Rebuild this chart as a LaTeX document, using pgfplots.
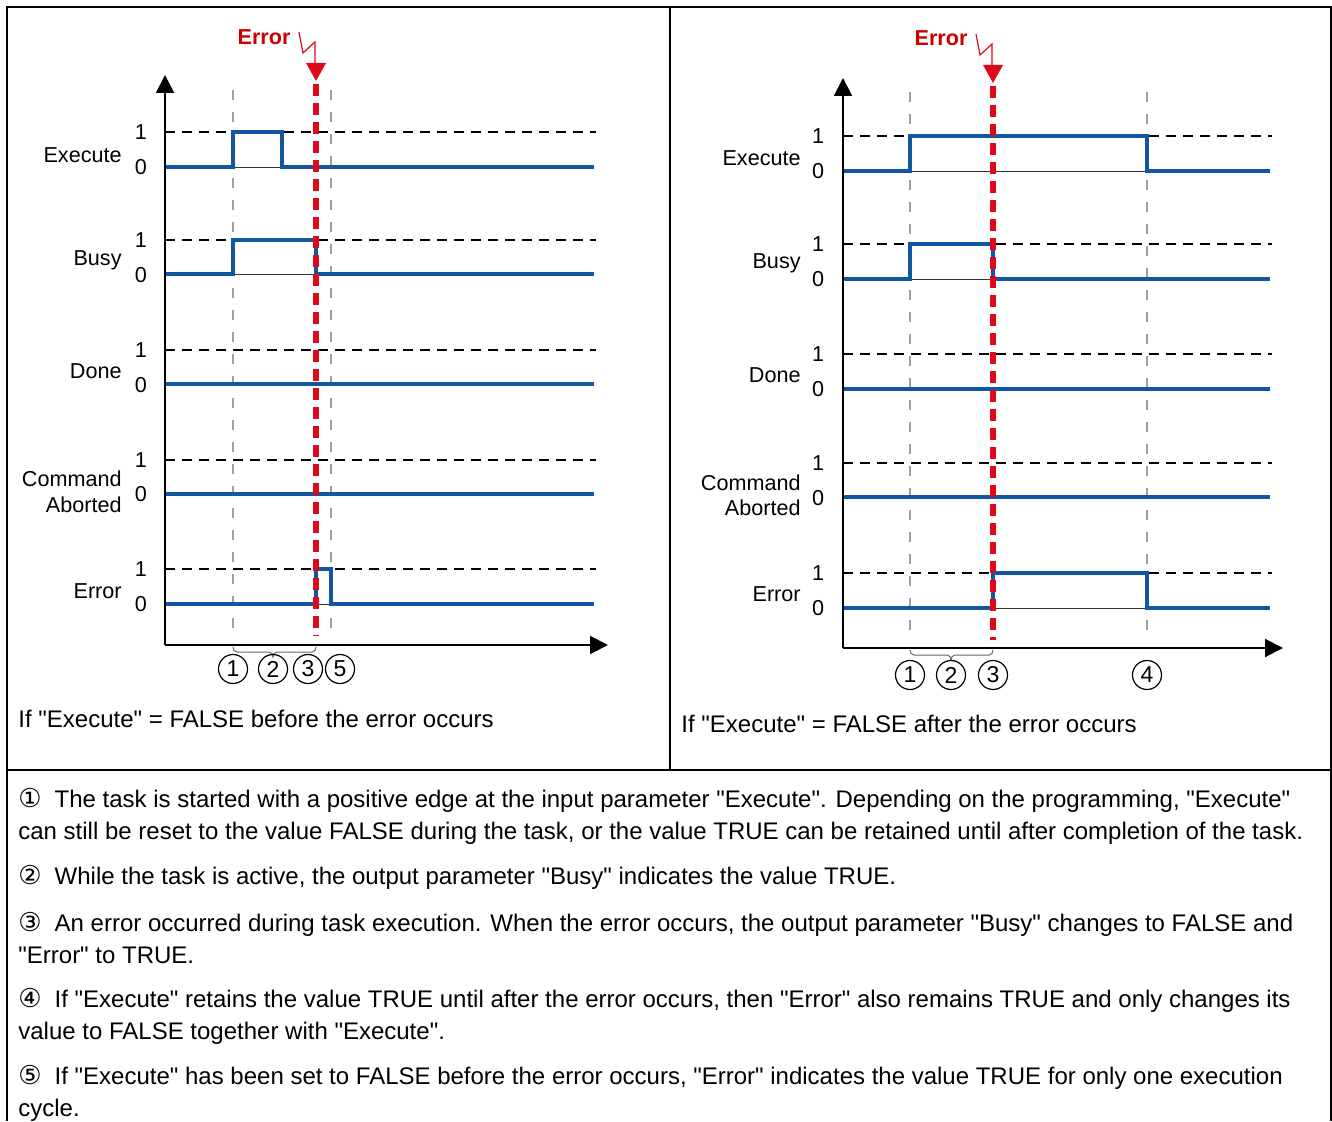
\documentclass[border=0pt]{standalone}
\usepackage{pgfplots}
\pgfplotsset{compat=1.18}
\usepackage{fontspec}
\setmainfont{Liberation Sans}[Ligatures=TeXOff]
\newfontfamily\dejavu{DejaVu Sans}
\usetikzlibrary{arrows.meta}

\definecolor{wblue}{RGB}{18,87,163}
\definecolor{ered}{RGB}{222,10,25}
\definecolor{etext}{RGB}{204,0,0}
\newcommand\fs{\fontsize{10.8}{13}\selectfont}
\newcommand\fn{\fontsize{12}{14.4}\selectfont}
\newcommand\cd[1]{{\dejavu\fontsize{13}{14}\selectfont #1}\hspace{6.5pt}}

\tikzset{
  lbl/.style={font=\fs, inner sep=0pt},
  note/.style={font=\fn, inner sep=0pt, anchor=base west},
  wave/.style={color=wblue, line width=2pt, line join=miter},
  one/.style={black, line width=0.7pt, dash pattern=on 5pt off 3.5pt},
  gv/.style={gray!75, line width=0.6pt, dash pattern=on 5pt off 6pt},
  rv/.style={ered, line width=2.6pt, dash pattern=on 6pt off 3.5pt},
  base/.style={black!80, line width=0.4pt},
  cnum/.style={circle, draw, line width=0.6pt, minimum size=14.5pt, inner sep=0pt, font=\fontsize{11.5}{13}\selectfont},
  ax/.style={black, line width=1pt, -{Triangle[width=9pt,length=9pt]}}
}

\begin{document}
\begin{tikzpicture}
\begin{axis}[hide axis, scale only axis, width=666pt, height=560.5pt,
  xmin=0, xmax=1332, ymin=0, ymax=1121, y dir=reverse, clip=false]

\path (0,0) rectangle (1332,1121);

% ---------- frame ----------
\draw[line width=1pt] (7,1121) -- (7,7) -- (1331,7) -- (1331,1121);
\draw[line width=1pt] (670,7) -- (670,770);
\draw[line width=1pt] (7,770) -- (1331,770);

% ================= LEFT PANEL =================
\draw[gv] (233,90) -- (233,640);
\draw[gv] (331,90) -- (331,640);
\draw[one] (165,132) -- (596,132);
\draw[one] (165,240) -- (596,240);
\draw[one] (165,350) -- (596,350);
\draw[one] (165,460) -- (596,460);
\draw[one] (165,569) -- (596,569);
\draw[base] (233,167) -- (282,167);
\draw[base] (233,274) -- (316,274);
\draw[base] (316,604) -- (331,604);

\addplot[wave] coordinates {(165,167) (233,167) (233,132) (282,132) (282,167) (594,167)};
\addplot[wave] coordinates {(165,274) (233,274) (233,240) (316,240) (316,274) (594,274)};
\addplot[wave] coordinates {(165,384) (594,384)};
\addplot[wave] coordinates {(165,494) (594,494)};
\addplot[wave] coordinates {(165,604) (316,604) (316,569) (331,569) (331,604) (594,604)};

\draw[ax] (165,645) -- (165,75);
\draw[ax] (165,645) -- (608,645);
\draw[rv] (316,84) -- (316,636);
\fill[ered] (306,63) -- (326,63) -- (316,81) -- cycle;
\draw[ered, line width=0.6pt] (299,32) -- (303,53) -- (315,42) -- (315,65);
\node[lbl, font=\fs\bfseries, text=etext] at (264,37) {Error};

\draw[black!60, line width=0.5pt] (233,647) to[out=-90,in=180] (237,652) -- (269,652) to[out=0,in=90] (273,657) to[out=90,in=180] (277,652) -- (312,652) to[out=0,in=-90] (316,647);

\node[cnum] at (233,669) {1};
\node[cnum] at (273,669) {2};
\node[cnum] at (308,669) {3};
\node[cnum] at (340,669) {5};

\node[lbl] at (141,132) {1};
\node[lbl] at (141,167) {0};
\node[lbl] at (141,240) {1};
\node[lbl] at (141,275) {0};
\node[lbl] at (141,350) {1};
\node[lbl] at (141,385) {0};
\node[lbl] at (141,460) {1};
\node[lbl] at (141,494) {0};
\node[lbl] at (141,569) {1};
\node[lbl] at (141,604) {0};
\node[lbl, anchor=base east] at (122,162.5) {Execute};
\node[lbl, anchor=base east] at (122,265.5) {Busy};
\node[lbl, anchor=base east] at (122,378.5) {Done};
\node[lbl, anchor=base east] at (122,486.5) {Command};
\node[lbl, anchor=base east] at (122,512.5) {Aborted};
\node[lbl, anchor=base east] at (122,598.5) {Error};
\node[note] at (18,727.5) {If "Execute" = FALSE before the error occurs};

% ================= RIGHT PANEL =================
\draw[gv] (910,92) -- (910,640);
\draw[gv] (1147,92) -- (1147,640);
\draw[one] (843,136) -- (1272,136);
\draw[one] (843,244) -- (1272,244);
\draw[one] (843,354) -- (1272,354);
\draw[one] (843,463) -- (1272,463);
\draw[one] (843,573) -- (1272,573);
\draw[base] (910,171) -- (1147,171);
\draw[base] (910,279) -- (993,279);
\draw[base] (993,608) -- (1147,608);

\addplot[wave] coordinates {(843,171) (910,171) (910,136) (1147,136) (1147,171) (1270,171)};
\addplot[wave] coordinates {(843,279) (910,279) (910,244) (993,244) (993,279) (1270,279)};
\addplot[wave] coordinates {(843,389) (1270,389)};
\addplot[wave] coordinates {(843,497) (1270,497)};
\addplot[wave] coordinates {(843,608) (993,608) (993,573) (1147,573) (1147,608) (1270,608)};

\draw[ax] (843,648) -- (843,78);
\draw[ax] (843,648) -- (1283,648);
\draw[rv] (993,86) -- (993,640);
\fill[ered] (983,65) -- (1003,65) -- (993,83) -- cycle;
\draw[ered, line width=0.6pt] (976,34) -- (980,55) -- (992,44) -- (992,67);
\node[lbl, font=\fs\bfseries, text=etext] at (941,38) {Error};

\draw[black!60, line width=0.5pt] (910,650) to[out=-90,in=180] (914,655) -- (947,655) to[out=0,in=90] (951,660) to[out=90,in=180] (955,655) -- (989,655) to[out=0,in=-90] (993,650);

\node[cnum] at (910,675) {1};
\node[cnum] at (951,675) {2};
\node[cnum] at (993,675) {3};
\node[cnum] at (1147,675) {4};

\node[lbl] at (818,136) {1};
\node[lbl] at (818,171) {0};
\node[lbl] at (818,244) {1};
\node[lbl] at (818,279) {0};
\node[lbl] at (818,354) {1};
\node[lbl] at (818,389) {0};
\node[lbl] at (818,463) {1};
\node[lbl] at (818,498) {0};
\node[lbl] at (818,573) {1};
\node[lbl] at (818,608) {0};
\node[lbl, anchor=base east] at (801,165.5) {Execute};
\node[lbl, anchor=base east] at (801,268.5) {Busy};
\node[lbl, anchor=base east] at (801,382.5) {Done};
\node[lbl, anchor=base east] at (801,490.5) {Command};
\node[lbl, anchor=base east] at (801,515.5) {Aborted};
\node[lbl, anchor=base east] at (801,601.5) {Error};
\node[note] at (681,732.5) {If "Execute" = FALSE after the error occurs};

% ================= NOTES =================
\node[note] at (18,807.5) {\cd{①}The task is started with a positive edge at the input parameter "Execute". Depending on the programming, "Execute"};
\node[note] at (18,839.5) {can still be reset to the value FALSE during the task, or the value TRUE can be retained until after completion of the task.};
\node[note] at (18,884.5) {\cd{②}While the task is active, the output parameter "Busy" indicates the value TRUE.};
\node[note] at (18,931.5) {\cd{③}An error occurred during task execution. When the error occurs, the output parameter "Busy" changes to FALSE and};
\node[note] at (18,963.5) {"Error" to TRUE.};
\node[note] at (18,1007.5) {\cd{④}If "Execute" retains the value TRUE until after the error occurs, then "Error" also remains TRUE and only changes its};
\node[note] at (18,1039.5) {value to FALSE together with "Execute".};
\node[note] at (18,1084.5) {\cd{⑤}If "Execute" has been set to FALSE before the error occurs, "Error" indicates the value TRUE for only one execution};
\node[note] at (18,1116.5) {cycle.};

\end{axis}
\end{tikzpicture}
\end{document}
